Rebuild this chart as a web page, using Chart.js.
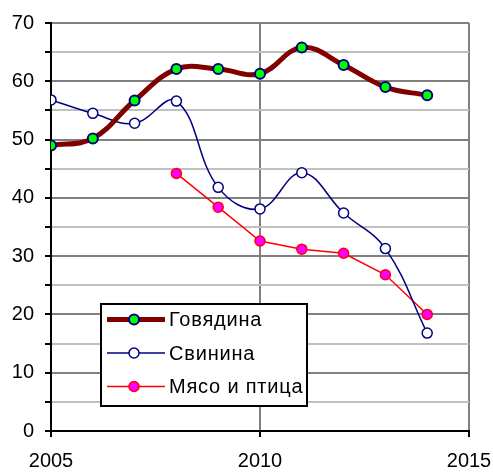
<!DOCTYPE html>
<html>
<head>
<meta charset="utf-8">
<script src="https://cdn.jsdelivr.net/npm/chart.js@4"></script>
<style>
  body { margin: 0; background: #fff; }
  #wrap { width: 493px; height: 472px; }
</style>
</head>
<body>
<div id="wrap"><canvas id="chart"></canvas></div>
<script>
const years = [2005, 2006, 2007, 2008, 2009, 2010, 2011, 2012, 2013, 2014];
const names = ["Говядина", "Свинина", "Мясо и птица"];
const beef = [49.0, 50.2, 56.7, 62.1, 62.1, 61.3, 65.8, 62.8, 59.0, 57.6];
const pork = [56.8, 54.5, 52.8, 56.6, 41.8, 38.1, 44.3, 37.4, 31.3, 16.8];
const poultry = [null, null, null, 44.2, 38.4, 32.6, 31.2, 30.5, 26.8, 20.0];
const yTicks = [0, 10, 20, 30, 40, 50, 60, 70];
const xTicks = [2005, 2010, 2015];

const FONT = "'Liberation Sans', Arial, sans-serif";
const pts = (vals) => years.map((x, i) => ({ x: x, y: vals[i] }));

// legend box drawn inside the plot, like the original
const boxLegend = {
    id: "boxLegend",
    afterDraw(chart) {
        const ctx = chart.ctx;
        const a = chart.chartArea;
        const x0 = a.left + 50, y0 = a.top + 281, w = 206, h = 102;
        ctx.save();
        ctx.fillStyle = "#fff";
        ctx.fillRect(x0, y0, w, h);
        ctx.strokeStyle = "#000";
        ctx.lineWidth = 2;
        ctx.strokeRect(x0, y0, w, h);
        chart.data.datasets.forEach((ds, i) => {
            const y = y0 + 15.5 + i * 33.5;
            ctx.strokeStyle = ds.borderColor;
            ctx.lineWidth = ds.borderWidth;
            ctx.beginPath();
            ctx.moveTo(x0 + 6, y);
            ctx.lineTo(x0 + 64, y);
            ctx.stroke();
            ctx.beginPath();
            ctx.arc(x0 + 33, y, 5, 0, Math.PI * 2);
            ctx.fillStyle = ds.pointBackgroundColor;
            ctx.fill();
            ctx.strokeStyle = ds.pointBorderColor;
            ctx.lineWidth = ds.pointBorderWidth;
            ctx.stroke();
            ctx.fillStyle = "#000";
            ctx.font = "20px " + FONT;
            ctx.letterSpacing = "0.8px";
            ctx.textBaseline = "middle";
            ctx.fillText(ds.label, x0 + 68, y + 1);
        });
        ctx.restore();
    }
};

new Chart(document.getElementById("chart"), {
    type: "line",
    data: {
        datasets: [
            {
                label: names[0],
                data: pts(beef),
                borderColor: "#800000",
                borderWidth: 5,
                tension: 0.4,
                pointRadius: 5,
                pointBackgroundColor: "#00ff00",
                pointBorderColor: "#000080",
                pointBorderWidth: 2,
            },
            {
                label: names[1],
                data: pts(pork),
                borderColor: "#000080",
                borderWidth: 1.5,
                tension: 0.4,
                pointRadius: 5,
                pointBackgroundColor: "#ffffff",
                pointBorderColor: "#000080",
                pointBorderWidth: 1.5,
            },
            {
                label: names[2],
                data: pts(poultry),
                borderColor: "#ff0000",
                borderWidth: 1.5,
                tension: 0,
                pointRadius: 5,
                pointBackgroundColor: "#ff00ff",
                pointBorderColor: "#ff0000",
                pointBorderWidth: 1.5,
            },
        ],
    },
    options: {
        responsive: true,
        maintainAspectRatio: false,
        animation: false,
        layout: { padding: { top: 13, right: 0, left: 0, bottom: 0 } },
        plugins: {
            legend: { display: false },
            tooltip: { enabled: false },
        },
        scales: {
            x: {
                type: "linear",
                min: xTicks[0],
                max: xTicks[xTicks.length - 1],
                afterBuildTicks: (s) => { s.ticks = xTicks.map((v) => ({ value: v })); },
                afterFit: (s) => { s.height = 41; s.paddingRight = 24; s.paddingLeft = 0; },
                ticks: {
                    color: "#000",
                    font: { size: 20, family: FONT },
                    padding: 12,
                    maxRotation: 0,
                    callback: (v) => String(v),
                },
                grid: {
                    color: "#808080",
                    lineWidth: 2,
                    tickColor: "#000",
                    tickLength: 6,
                    tickWidth: 2,
                },
                border: { color: "#000", width: 2 },
            },
            y: {
                min: 0,
                max: 70,
                afterFit: (s) => { s.width = 51; },
                ticks: {
                    stepSize: 5,
                    color: "#000",
                    font: { size: 20, family: FONT },
                    padding: 11,
                    callback: (v) => (yTicks.includes(v) ? String(v) : ""),
                },
                grid: {
                    color: (c) => (c.tick && c.tick.value % 10 === 0 ? "#808080" : "#c0c0c0"),
                    lineWidth: 2,
                    tickColor: "#000",
                    tickLength: 6,
                    tickWidth: 2,
                },
                border: { color: "#000", width: 2 },
            },
        },
    },
    plugins: [boxLegend],
});
</script>
</body>
</html>
